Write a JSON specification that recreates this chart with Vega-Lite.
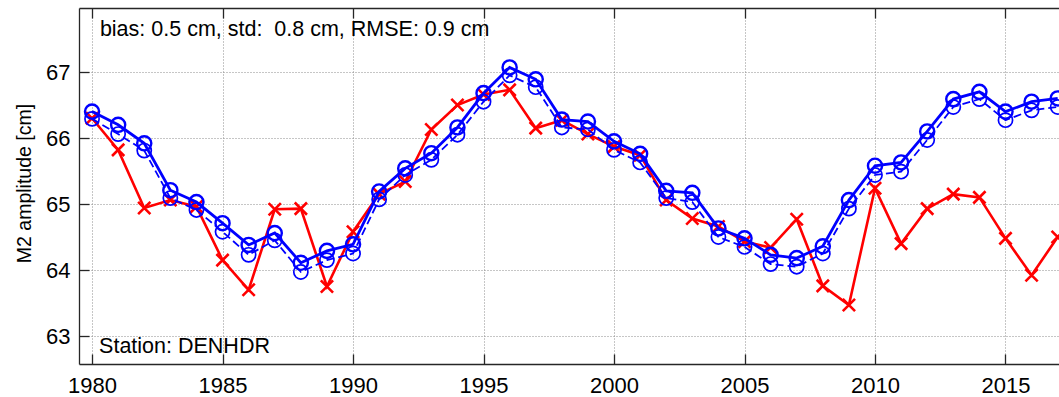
{
  "$schema": "https://vega.github.io/schema/vega-lite/v6.json",
  "width": 980,
  "height": 356,
  "autosize": {"type": "none"},
  "padding": {"left": 79, "top": 8, "right": 0, "bottom": 33},
  "background": "white",
  "config": {
    "view": {"stroke": null},
    "axis": {
      "domainColor": "#262626",
      "domainWidth": 1.3,
      "tickColor": "#262626",
      "tickWidth": 1.3,
      "labelColor": "black",
      "labelFont": "Liberation Sans",
      "labelFontSize": 22,
      "titleFont": "Liberation Sans",
      "titleColor": "black",
      "gridColor": "#8c8c8c",
      "gridDash": [1, 2],
      "gridWidth": 1
    }
  },
  "datasets": {
    "series": [
      {"year": 1980, "series": "obs", "value": 66.30}, {"year": 1981, "series": "obs", "value": 65.82},
      {"year": 1982, "series": "obs", "value": 64.94}, {"year": 1983, "series": "obs", "value": 65.06},
      {"year": 1984, "series": "obs", "value": 64.96}, {"year": 1985, "series": "obs", "value": 64.15},
      {"year": 1986, "series": "obs", "value": 63.70}, {"year": 1987, "series": "obs", "value": 64.92},
      {"year": 1988, "series": "obs", "value": 64.93}, {"year": 1989, "series": "obs", "value": 63.75},
      {"year": 1990, "series": "obs", "value": 64.58}, {"year": 1991, "series": "obs", "value": 65.15},
      {"year": 1992, "series": "obs", "value": 65.34}, {"year": 1993, "series": "obs", "value": 66.13},
      {"year": 1994, "series": "obs", "value": 66.50}, {"year": 1995, "series": "obs", "value": 66.66},
      {"year": 1996, "series": "obs", "value": 66.73}, {"year": 1997, "series": "obs", "value": 66.15},
      {"year": 1998, "series": "obs", "value": 66.27}, {"year": 1999, "series": "obs", "value": 66.06},
      {"year": 2000, "series": "obs", "value": 65.87}, {"year": 2001, "series": "obs", "value": 65.74},
      {"year": 2002, "series": "obs", "value": 65.06}, {"year": 2003, "series": "obs", "value": 64.78},
      {"year": 2004, "series": "obs", "value": 64.66}, {"year": 2005, "series": "obs", "value": 64.43},
      {"year": 2006, "series": "obs", "value": 64.34}, {"year": 2007, "series": "obs", "value": 64.77},
      {"year": 2008, "series": "obs", "value": 63.76}, {"year": 2009, "series": "obs", "value": 63.47},
      {"year": 2010, "series": "obs", "value": 65.24}, {"year": 2011, "series": "obs", "value": 64.40},
      {"year": 2012, "series": "obs", "value": 64.93}, {"year": 2013, "series": "obs", "value": 65.15},
      {"year": 2014, "series": "obs", "value": 65.10}, {"year": 2015, "series": "obs", "value": 64.48},
      {"year": 2016, "series": "obs", "value": 63.92}, {"year": 2017, "series": "obs", "value": 64.50},

      {"year": 1980, "series": "m1", "value": 66.40}, {"year": 1981, "series": "m1", "value": 66.20},
      {"year": 1982, "series": "m1", "value": 65.92}, {"year": 1983, "series": "m1", "value": 65.21},
      {"year": 1984, "series": "m1", "value": 65.03}, {"year": 1985, "series": "m1", "value": 64.71},
      {"year": 1986, "series": "m1", "value": 64.38}, {"year": 1987, "series": "m1", "value": 64.56},
      {"year": 1988, "series": "m1", "value": 64.11}, {"year": 1989, "series": "m1", "value": 64.29},
      {"year": 1990, "series": "m1", "value": 64.39}, {"year": 1991, "series": "m1", "value": 65.19},
      {"year": 1992, "series": "m1", "value": 65.54}, {"year": 1993, "series": "m1", "value": 65.77},
      {"year": 1994, "series": "m1", "value": 66.16}, {"year": 1995, "series": "m1", "value": 66.68},
      {"year": 1996, "series": "m1", "value": 67.07}, {"year": 1997, "series": "m1", "value": 66.89},
      {"year": 1998, "series": "m1", "value": 66.28}, {"year": 1999, "series": "m1", "value": 66.25},
      {"year": 2000, "series": "m1", "value": 65.95}, {"year": 2001, "series": "m1", "value": 65.76},
      {"year": 2002, "series": "m1", "value": 65.20}, {"year": 2003, "series": "m1", "value": 65.17},
      {"year": 2004, "series": "m1", "value": 64.63}, {"year": 2005, "series": "m1", "value": 64.48},
      {"year": 2006, "series": "m1", "value": 64.23}, {"year": 2007, "series": "m1", "value": 64.18},
      {"year": 2008, "series": "m1", "value": 64.36}, {"year": 2009, "series": "m1", "value": 65.06},
      {"year": 2010, "series": "m1", "value": 65.58}, {"year": 2011, "series": "m1", "value": 65.63},
      {"year": 2012, "series": "m1", "value": 66.10}, {"year": 2013, "series": "m1", "value": 66.59},
      {"year": 2014, "series": "m1", "value": 66.70}, {"year": 2015, "series": "m1", "value": 66.40},
      {"year": 2016, "series": "m1", "value": 66.55}, {"year": 2017, "series": "m1", "value": 66.60},

      {"year": 1980, "series": "m2", "value": 66.29}, {"year": 1981, "series": "m2", "value": 66.06},
      {"year": 1982, "series": "m2", "value": 65.81}, {"year": 1983, "series": "m2", "value": 65.09},
      {"year": 1984, "series": "m2", "value": 64.91}, {"year": 1985, "series": "m2", "value": 64.58},
      {"year": 1986, "series": "m2", "value": 64.23}, {"year": 1987, "series": "m2", "value": 64.45},
      {"year": 1988, "series": "m2", "value": 63.97}, {"year": 1989, "series": "m2", "value": 64.15},
      {"year": 1990, "series": "m2", "value": 64.25}, {"year": 1991, "series": "m2", "value": 65.07},
      {"year": 1992, "series": "m2", "value": 65.44}, {"year": 1993, "series": "m2", "value": 65.67},
      {"year": 1994, "series": "m2", "value": 66.05}, {"year": 1995, "series": "m2", "value": 66.55},
      {"year": 1996, "series": "m2", "value": 66.95}, {"year": 1997, "series": "m2", "value": 66.77},
      {"year": 1998, "series": "m2", "value": 66.16}, {"year": 1999, "series": "m2", "value": 66.13},
      {"year": 2000, "series": "m2", "value": 65.82}, {"year": 2001, "series": "m2", "value": 65.63},
      {"year": 2002, "series": "m2", "value": 65.09}, {"year": 2003, "series": "m2", "value": 65.03},
      {"year": 2004, "series": "m2", "value": 64.50}, {"year": 2005, "series": "m2", "value": 64.35},
      {"year": 2006, "series": "m2", "value": 64.09}, {"year": 2007, "series": "m2", "value": 64.05},
      {"year": 2008, "series": "m2", "value": 64.25}, {"year": 2009, "series": "m2", "value": 64.93},
      {"year": 2010, "series": "m2", "value": 65.44}, {"year": 2011, "series": "m2", "value": 65.49},
      {"year": 2012, "series": "m2", "value": 65.97}, {"year": 2013, "series": "m2", "value": 66.47},
      {"year": 2014, "series": "m2", "value": 66.59}, {"year": 2015, "series": "m2", "value": 66.27},
      {"year": 2016, "series": "m2", "value": 66.42}, {"year": 2017, "series": "m2", "value": 66.47}
    ],
    "notes": [
      {"year": 1980.3, "value": 67.545, "label": "bias: 0.5 cm, std:\u00a0 0.8 cm, RMSE: 0.9 cm"},
      {"year": 1980.27, "value": 62.738, "label": "Station: DENHDR"}
    ]
  },
  "resolve": {"axis": {"x": "independent"}},
  "layer": [
    {
      "data": {"name": "series"},
      "transform": [{"filter": "datum.series === 'obs'"}],
      "mark": {"type": "line", "color": "#ff0000", "strokeWidth": 2.6, "clip": true},
      "encoding": {
        "x": {"field": "year", "type": "quantitative",
              "scale": {"domain": [1979.5, 2017.05], "nice": false, "zero": false},
              "axis": {"orient": "bottom", "values": [1980, 1985, 1990, 1995, 2000, 2005, 2010, 2015],
                       "format": "d", "title": null, "grid": true, "tickSize": -10, "labelPadding": 21}},
        "y": {"field": "value", "type": "quantitative",
              "scale": {"domain": [62.576, 67.97], "nice": false, "zero": false},
              "axis": {"values": [63, 64, 65, 66, 67], "format": "d", "title": "M2 amplitude [cm]",
                       "titleFontSize": 19.5, "titleFontWeight": "normal", "grid": true, "tickSize": -10,
                       "labelPadding": 19, "titleX": -55, "titleBaseline": "middle", "titleY": 175}}
      }
    },
    {
      "data": {"name": "series"},
      "transform": [{"filter": "datum.series === 'obs'"}],
      "mark": {"type": "point", "shape": "M-1,-1L1,1M-1,1L1,-1", "filled": false, "stroke": "#ff0000",
               "strokeWidth": 2.6, "size": 150, "opacity": 1, "clip": true},
      "encoding": {
        "x": {"field": "year", "type": "quantitative", "axis": null},
        "y": {"field": "value", "type": "quantitative", "title": "M2 amplitude [cm]"}
      }
    },
    {
      "data": {"name": "series"},
      "transform": [{"filter": "datum.series === 'm2'"}],
      "mark": {"type": "line", "color": "#0000ff", "strokeWidth": 1.8, "strokeDash": [8, 4], "clip": true},
      "encoding": {
        "x": {"field": "year", "type": "quantitative", "axis": null},
        "y": {"field": "value", "type": "quantitative", "title": "M2 amplitude [cm]"}
      }
    },
    {
      "data": {"name": "series"},
      "transform": [{"filter": "datum.series === 'm2'"}],
      "mark": {"type": "point", "shape": "circle", "filled": false, "stroke": "#0000ff",
               "strokeWidth": 1.7, "size": 200, "opacity": 1, "clip": true},
      "encoding": {
        "x": {"field": "year", "type": "quantitative", "axis": null},
        "y": {"field": "value", "type": "quantitative", "title": "M2 amplitude [cm]"}
      }
    },
    {
      "data": {"name": "series"},
      "transform": [{"filter": "datum.series === 'm1'"}],
      "mark": {"type": "line", "color": "#0000ff", "strokeWidth": 2.8, "clip": true},
      "encoding": {
        "x": {"field": "year", "type": "quantitative", "axis": null},
        "y": {"field": "value", "type": "quantitative", "title": "M2 amplitude [cm]"}
      }
    },
    {
      "data": {"name": "series"},
      "transform": [{"filter": "datum.series === 'm1'"}],
      "mark": {"type": "point", "shape": "circle", "filled": false, "stroke": "#0000ff",
               "strokeWidth": 2.4, "size": 200, "opacity": 1, "clip": true},
      "encoding": {
        "x": {"field": "year", "type": "quantitative", "axis": null},
        "y": {"field": "value", "type": "quantitative", "title": "M2 amplitude [cm]"}
      }
    },
    {
      "data": {"name": "notes"},
      "mark": {"type": "text", "align": "left", "baseline": "alphabetic", "font": "Liberation Sans",
               "fontSize": 21.5, "color": "black"},
      "encoding": {
        "x": {"field": "year", "type": "quantitative",
              "axis": {"orient": "top", "values": [1980, 1985, 1990, 1995, 2000, 2005, 2010, 2015],
                       "labels": false, "title": null, "grid": false, "tickSize": -10}},
        "y": {"field": "value", "type": "quantitative", "title": "M2 amplitude [cm]"},
        "text": {"field": "label"}
      }
    }
  ]
}
